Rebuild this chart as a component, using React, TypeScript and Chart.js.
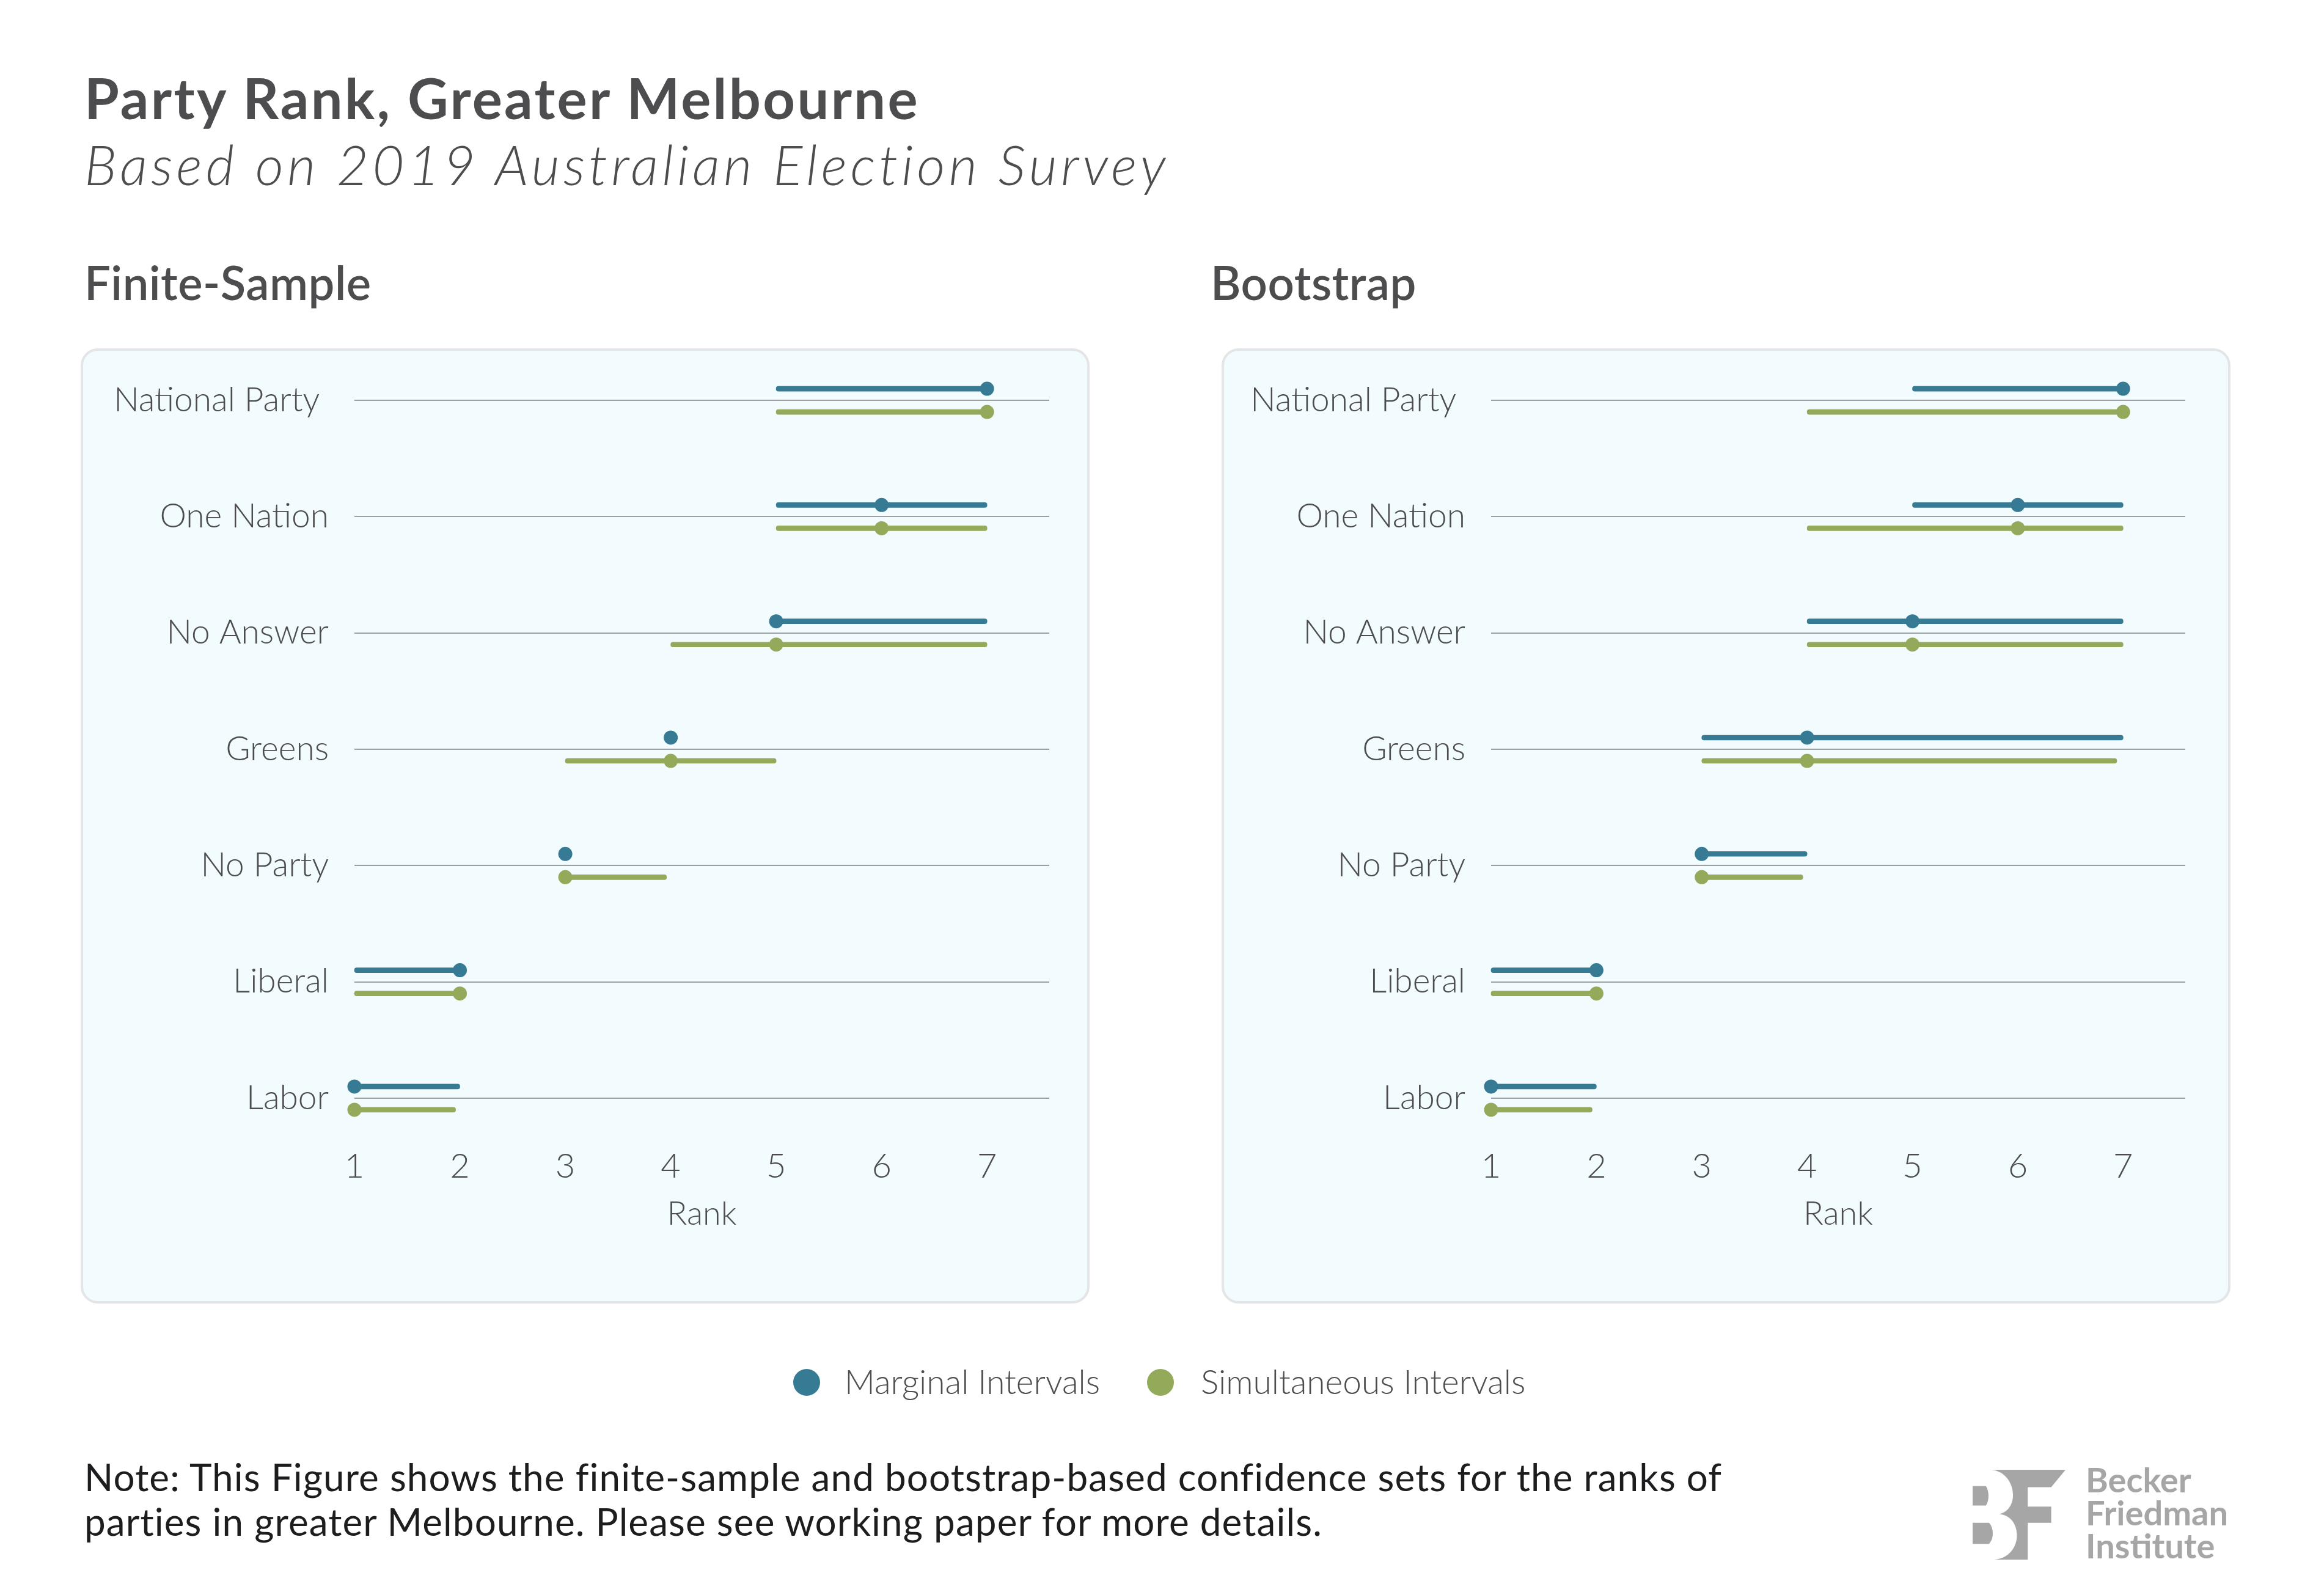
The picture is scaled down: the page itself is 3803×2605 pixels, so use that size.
import React, { useEffect, useRef } from 'react';
import { Chart, registerables } from 'chart.js';

Chart.register(...registerables);

// ---------- data ----------
const CATEGORIES = ['National Party ', 'One Nation', 'No Answer', 'Greens', 'No Party', 'Liberal', 'Labor'];
const RANK_TICKS = [1, 2, 3, 4, 5, 6, 7];

// Finite-Sample panel
const FS_MARG_LO = [5, 5, 5, 4, 3, 1, 1];
const FS_MARG_HI = [7, 7, 7, 4, 3, 2, 2];
const FS_MARG_PT = [7, 6, 5, 4, 3, 2, 1];
const FS_SIM_LO = [5, 5, 4, 3, 3, 1, 1];
const FS_SIM_HI = [7, 7, 7, 5, 3.96, 2, 1.96];
const FS_SIM_PT = [7, 6, 5, 4, 3, 2, 1];

// Bootstrap panel
const BS_MARG_LO = [5, 5, 4, 3, 3, 1, 1];
const BS_MARG_HI = [7, 7, 7, 7, 4, 2, 2];
const BS_MARG_PT = [7, 6, 5, 4, 3, 2, 1];
const BS_SIM_LO = [4, 4, 4, 3, 3, 1, 1];
const BS_SIM_HI = [7, 7, 7, 6.94, 3.96, 2, 1.96];
const BS_SIM_PT = [7, 6, 5, 4, 3, 2, 1];

const LEGEND_LABELS = ['Marginal Intervals', 'Simultaneous Intervals'];

// ---------- styles ----------
const BLUE = '#367a93';
const GREEN = '#93aa5a';
const TEXT = '#4d4d4f';
const GRID = '#9ea1a3';
const FONT = 'Lato, "Open Sans", sans-serif';
const ROW_OFFSET = 0.1;

type Series = { lo: number[]; hi: number[]; pt: number[] };

function RankChart(props: {
  width: number;
  height: number;
  yAxisWidth: number;
  rightPad: number;
  marg: Series;
  sim: Series;
}) {
  const ref = useRef<HTMLCanvasElement | null>(null);
  useEffect(() => {
    if (!ref.current) return;
    const { marg, sim, yAxisWidth, rightPad } = props;
    const pointDs = (s: Series, color: string, off: number) => ({
      type: 'scatter' as const,
      data: s.pt.map((v, i) => ({ x: v, y: i + off })),
      backgroundColor: color,
      borderColor: color,
      pointRadius: 11.5,
      pointBorderWidth: 0,
      pointHoverRadius: 11.5,
      clip: false as const,
      order: 0,
    });
    const barDs = (s: Series, color: string, off: number) => ({
      type: 'bar' as const,
      data: s.lo.map((l, i) => ({ x: [l, s.hi[i]], y: i + off })),
      backgroundColor: color,
      borderWidth: 0,
      barThickness: 8,
      borderRadius: 4,
      borderSkipped: false,
      grouped: false,
      clip: false as const,
      order: 1,
    });
    const chart = new Chart(ref.current, {
      type: 'bar',
      data: {
        datasets: [
          pointDs(marg, BLUE, -ROW_OFFSET),
          pointDs(sim, GREEN, ROW_OFFSET),
          barDs(marg, BLUE, -ROW_OFFSET),
          barDs(sim, GREEN, ROW_OFFSET),
        ] as any,
      },
      options: {
        indexAxis: 'y',
        animation: false,
        responsive: false,
        maintainAspectRatio: false,
        devicePixelRatio: 1,
        layout: { padding: { left: 0, right: rightPad, top: 28, bottom: 114 } },
        plugins: { legend: { display: false }, tooltip: { enabled: false } },
        scales: {
          x: {
            type: 'linear',
            position: 'bottom',
            min: 1,
            max: 7.59,
            offset: false,
            grid: { display: false },
            border: { display: false },
            afterBuildTicks: (s: any) => {
              s.ticks = RANK_TICKS.map((v) => ({ value: v }));
            },
            afterFit: (s: any) => {
              s.height = 165;
              s.paddingLeft = 0;
              s.paddingRight = 0;
            },
            ticks: {
              padding: 13,
              color: TEXT,
              font: { family: FONT, size: 56, weight: '300' },
              callback: (v: any) => String(v),
            },
            title: {
              display: true,
              text: 'Rank',
              color: TEXT,
              padding: 0,
              font: { family: FONT, size: 54, weight: '300' },
            },
          },
          y: {
            type: 'linear',
            reverse: true,
            min: -0.3,
            max: 6.3,
            offset: false,
            grid: { color: GRID, lineWidth: 2, drawTicks: false, offset: false },
            border: { display: false },
            afterBuildTicks: (s: any) => {
              s.ticks = CATEGORIES.map((_, i) => ({ value: i }));
            },
            afterFit: (s: any) => {
              s.width = yAxisWidth;
              s.paddingTop = 0;
              s.paddingBottom = 0;
            },
            ticks: {
              padding: 42,
              color: TEXT,
              font: { family: FONT, size: 55, weight: '300' },
              callback: (v: any) => CATEGORIES[v as number],
            },
          },
        },
      } as any,
    });
    return () => chart.destroy();
  }, []);
  return (
    <canvas
      ref={ref}
      width={props.width}
      height={props.height}
      style={{ position: 'absolute', left: 0, top: 0, width: props.width, height: props.height }}
    />
  );
}

function Panel(props: {
  left: number;
  titleLeft: number;
  title: string;
  yAxisWidth: number;
  rightPad: number;
  marg: Series;
  sim: Series;
}) {
  const W = 1651;
  const H = 1563;
  return (
    <>
      <div
        style={{
          position: 'absolute',
          left: props.titleLeft,
          top: 416,
          font: `600 76px ${FONT}`,
          lineHeight: 1.2,
          letterSpacing: 0.5,
          color: TEXT,
          whiteSpace: 'nowrap',
        }}
      >
        {props.title}
      </div>
      <div
        style={{
          position: 'absolute',
          left: props.left,
          top: 570,
          width: W,
          height: H,
          boxSizing: 'border-box',
          background: '#f2fbfd',
          border: '4px solid #e3e5e7',
          borderRadius: 28,
        }}
      />
      <div style={{ position: 'absolute', left: props.left, top: 570, width: W, height: H }}>
        <RankChart
          width={W}
          height={H}
          yAxisWidth={props.yAxisWidth}
          rightPad={props.rightPad}
          marg={props.marg}
          sim={props.sim}
        />
      </div>
    </>
  );
}

function Logo() {
  return (
    <div style={{ position: 'absolute', left: 3228, top: 2405 }}>
      <svg width={152} height={147} viewBox="85 75 455 440">
        <path d="M85,155 L150,155 C167,178 167,228 150,250 L85,250 Z" fill="#a6a6a6" />
        <path d="M85,335 L165,335 C190,360 190,415 165,438 L85,438 Z" fill="#a6a6a6" />
        <path
          d="M175,75 L540,75 L470,160 L355,160 L355,255 L470,255 L470,335 L355,335 L355,515 L190,515 C335,505 335,300 215,292 C320,270 300,85 175,75 Z"
          fill="#a6a6a6"
        />
      </svg>
      <div
        style={{
          position: 'absolute',
          left: 185,
          top: -11,
          font: `700 56px ${FONT}`,
          lineHeight: '54px',
          color: '#a6a6a6',
          whiteSpace: 'nowrap',
        }}
      >
        Becker
        <br />
        Friedman
        <br />
        Institute
      </div>
    </div>
  );
}

export default function App() {
  return (
    <div
      style={{
        position: 'fixed',
        left: 0,
        top: 0,
        width: 3803,
        height: 2605,
        background: '#ffffff',
        overflow: 'hidden',
        fontFamily: FONT,
      }}
    >
      <div
        style={{
          position: 'absolute',
          left: 138,
          top: 105,
          font: `700 92px ${FONT}`,
          lineHeight: 1.2,
          letterSpacing: 3.3,
          color: TEXT,
          whiteSpace: 'nowrap',
        }}
      >
        Party Rank, Greater Melbourne
      </div>
      <div
        style={{
          position: 'absolute',
          left: 138,
          top: 214,
          font: `italic 300 90px ${FONT}`,
          lineHeight: 1.2,
          letterSpacing: 6,
          color: TEXT,
          whiteSpace: 'nowrap',
        }}
      >
        Based on 2019 Australian Election Survey
      </div>

      <Panel
        left={132}
        titleLeft={138}
        title="Finite-Sample"
        yAxisWidth={448}
        rightPad={66}
        marg={{ lo: FS_MARG_LO, hi: FS_MARG_HI, pt: FS_MARG_PT }}
        sim={{ lo: FS_SIM_LO, hi: FS_SIM_HI, pt: FS_SIM_PT }}
      />
      <Panel
        left={1999}
        titleLeft={1981}
        title="Bootstrap"
        yAxisWidth={441}
        rightPad={74}
        marg={{ lo: BS_MARG_LO, hi: BS_MARG_HI, pt: BS_MARG_PT }}
        sim={{ lo: BS_SIM_LO, hi: BS_SIM_HI, pt: BS_SIM_PT }}
      />

      {/* legend */}
      {[BLUE, GREEN].map((c, i) => (
        <div key={i}>
          <div
            style={{
              position: 'absolute',
              left: (i === 0 ? 1320 : 1899) - 22,
              top: 2262 - 22,
              width: 44,
              height: 44,
              borderRadius: 22,
              background: c,
            }}
          />
          <div
            style={{
              position: 'absolute',
              left: i === 0 ? 1382 : 1965,
              top: 2227,
              font: `300 55px ${FONT}`,
              lineHeight: 1.2,
              color: TEXT,
              whiteSpace: 'nowrap',
            }}
          >
            {LEGEND_LABELS[i]}
          </div>
        </div>
      ))}

      {/* note */}
      <div
        style={{
          position: 'absolute',
          left: 138,
          top: 2380,
          font: `400 62px ${FONT}`,
          lineHeight: '73px',
          letterSpacing: 1.1,
          color: '#1d1d1f',
          whiteSpace: 'nowrap',
        }}
      >
        Note: This Figure shows the finite-sample and bootstrap-based confidence sets for the ranks of
        <br />
        parties in greater Melbourne. Please see working paper for more details.
      </div>

      <Logo />
    </div>
  );
}
